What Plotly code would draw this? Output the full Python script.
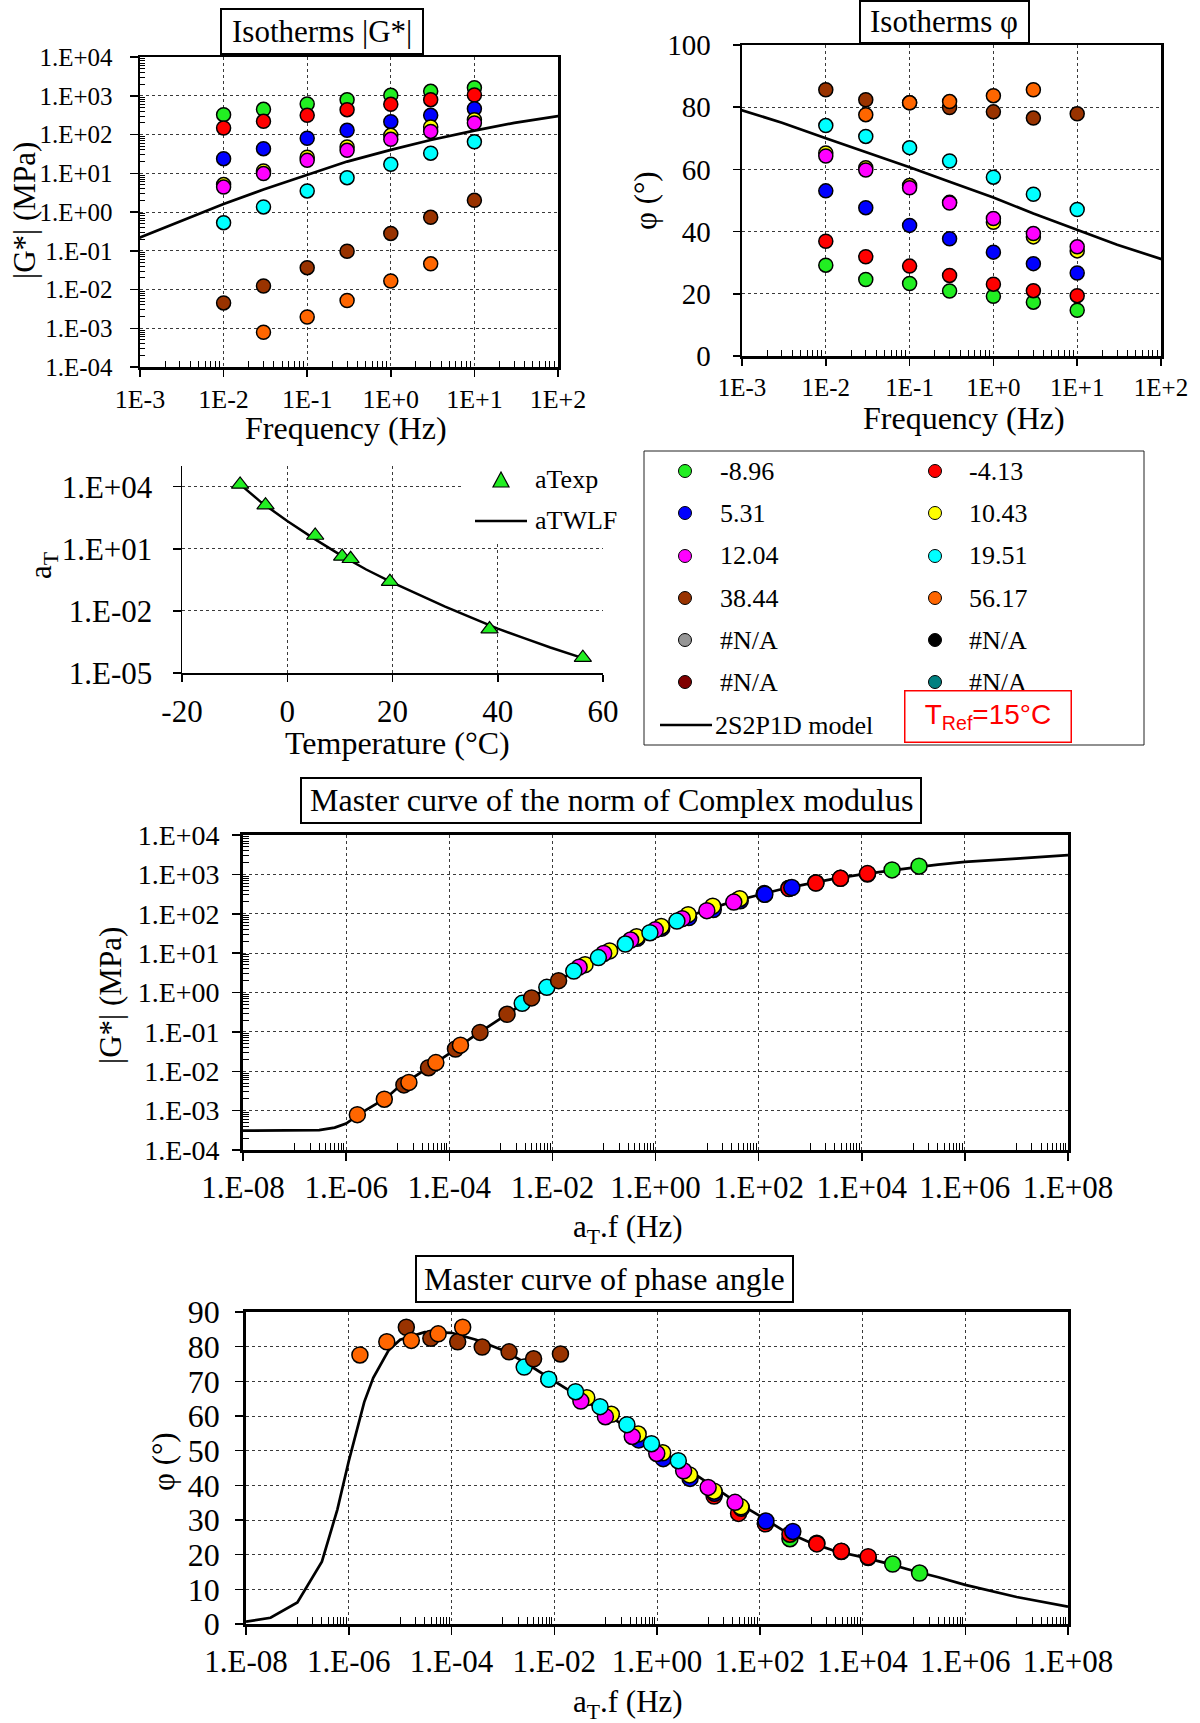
import plotly.graph_objects as go

# ---------------- data ----------------
freqs = [0.01, 0.03, 0.1, 0.3, 1, 3, 10]
temps = [-8.96, -4.13, 5.31, 10.43, 12.04, 19.51, 38.44, 56.17]
temp_labels = ["-8.96", "-4.13", "5.31", "10.43", "12.04", "19.51", "38.44", "56.17"]
series_colors = ["#22EE22", "#FF0000", "#0000FF", "#FFFF00",
                 "#FF00FF", "#00FFFF", "#993300", "#FF6600"]

# |G*| (MPa) per isotherm, at freqs
G_m896 = [325, 446, 612, 792, 1026, 1300, 1619]
G_m413 = [147, 219, 313, 437, 600, 792, 1047]
G_531 = [23.8, 43, 80, 128, 214, 313, 464]
G_1043 = [5.1, 11.4, 26, 47.5, 95, 156, 241]
G_1204 = [4.4, 9.8, 21.5, 39, 75, 120, 198]
G_1951 = [0.53, 1.35, 3.5, 7.7, 17, 33, 65]
G_3844 = [0.0045, 0.0123, 0.0366, 0.097, 0.28, 0.73, 2.0]
G_5617 = [None, 0.00079, 0.00195, 0.0052, 0.0166, 0.046, None]

# phase angle (deg) per isotherm, at freqs
P_m896 = [29.2, 24.6, 23.3, 20.9, 19.2, 17.3, 14.7]
P_m413 = [36.9, 31.9, 28.9, 25.9, 23.1, 21.0, 19.4]
P_531 = [53.1, 47.7, 42.0, 37.7, 33.4, 29.7, 26.7]
P_1043 = [65.3, 60.5, 54.8, 49.4, 43.0, 38.3, 33.8]
P_1204 = [64.3, 59.8, 54.1, 49.2, 44.2, 39.4, 35.1]
P_1951 = [74.1, 70.6, 67.0, 62.7, 57.5, 52.0, 47.1]
P_3844 = [85.6, 82.4, 81.4, 79.9, 78.5, 76.5, 77.9]
P_5617 = [None, 77.6, 81.4, 81.8, 83.7, 85.6, None]

# experimental shift factors aT (Tref = 15 C)
aT_exp = [1.29e4, 1.29e3, 44, 4.3, 3.3, 0.26, 1.32e-3, 5.5e-5]

# WLF fit curve
wlf_temps = [-8.96, -5, 0, 5, 10, 15, 20, 25, 30, 35, 40, 45, 50, 56.17]
wlf_aT = [1.29e4, 1.8e3, 2.2e2, 32, 5.2, 1.0, 0.23, 5.8e-2, 1.6e-2,
          4.7e-3, 1.4e-3, 4.8e-4, 1.7e-4, 5.2e-5]

# 2S2P1D model at Tref (reduced frequency, |G*|, phase)
model_f = [1e-8, 3e-8, 1e-7, 3e-7, 6e-7, 1e-6, 2e-6, 3e-6, 6e-6, 1e-5, 3e-5,
           1e-4, 3e-4, 1e-3, 3e-3, 1e-2, 3e-2, 1e-1, 3e-1, 1, 3, 10, 30, 100,
           300, 1e3, 3e3, 1e4, 3e4, 1e5, 3e5, 1e6, 1e7, 1e8]
model_G = [3.1e-4, 3.1e-4, 3.1e-4, 3.2e-4, 3.7e-4, 4.7e-4, 8.9e-4, 1.22e-3,
           2.1e-3, 3.8e-3, 1.0e-2, 2.8e-2, 7.8e-2, 0.22, 0.58, 1.6, 3.8, 9.1,
           20, 40, 72, 126, 200, 300, 430, 590, 780, 1000, 1230, 1480, 1770,
           2080, 2520, 3100]
model_P = [0.7, 1.8, 6.2, 18, 33, 47, 64, 71, 79, 82, 84.2, 84, 82, 79, 75,
           70, 65.6, 60.7, 56, 51, 45.8, 40.6, 35.8, 31.2, 26.8, 23.4, 21, 19.3,
           17.5, 15.3, 13.5, 11.3, 7.8, 5.0]

na_colors = ["#969696", "#000000", "#800000", "#008080"]

temp_axis_ticks = [-20, 0, 20, 40, 60]
temp_axis_text = ["-20", "0", "20", "40", "60"]

G_series = [G_m896, G_m413, G_531, G_1043, G_1204, G_1951, G_3844, G_5617]
P_series = [P_m896, P_m413, P_531, P_1043, P_1204, P_1951, P_3844, P_5617]

# ---------------- layout helpers ----------------
W, H = 1200, 1723
SERIF = "Liberation Serif"
SANS = "Liberation Sans"


def fx(p):
    return p / W


def fy(p):
    return 1 - p / H


def dom_x(a, b):
    return [fx(a), fx(b)]


def dom_y(top, bottom):
    return [fy(bottom), fy(top)]


GRID = dict(showgrid=True, gridcolor="#3a3a3a", griddash="dot", gridwidth=1)


def axis(domain, anchor, size, **kw):
    d = dict(domain=domain, anchor=anchor, showline=True, linecolor="black",
             ticks="outside", tickcolor="black", tickwidth=1.5, zeroline=False,
             automargin=False,
             tickfont=dict(family=SERIF, size=size, color="black"), **GRID)
    d.update(kw)
    return d


def decade_minor(n0, n1, ks=range(2, 10)):
    return [k * 10 ** n for n in range(n0, n1) for k in ks]


fig = go.Figure()

# model lines
for xa, ya, yv in [("x", "y", model_G), ("x2", "y2", model_P),
                   ("x4", "y4", model_G), ("x5", "y5", model_P)]:
    fig.add_trace(go.Scatter(x=model_f, y=yv, xaxis=xa, yaxis=ya, mode="lines",
                             line=dict(color="black", width=2.7),
                             showlegend=False, hoverinfo="skip"))

# isotherm points and master-curve points
for i, t in enumerate(temps):
    col = series_colors[i]
    mk = dict(color=col, size=14, line=dict(color="black", width=1.5))
    mk2 = dict(color=col, size=16, line=dict(color="black", width=1.5))
    red_f = [f * aT_exp[i] for f in freqs]
    fig.add_trace(go.Scatter(x=freqs, y=G_series[i], xaxis="x", yaxis="y",
                             mode="markers", marker=mk, name=temp_labels[i],
                             showlegend=False))
    fig.add_trace(go.Scatter(x=freqs, y=P_series[i], xaxis="x2", yaxis="y2",
                             mode="markers", marker=mk, name=temp_labels[i],
                             showlegend=False))
    fig.add_trace(go.Scatter(x=red_f, y=G_series[i], xaxis="x4", yaxis="y4",
                             mode="markers", marker=mk2, name=temp_labels[i],
                             showlegend=False))
    fig.add_trace(go.Scatter(x=red_f, y=P_series[i], xaxis="x5", yaxis="y5",
                             mode="markers", marker=mk2, name=temp_labels[i],
                             showlegend=False))

# aT panel
fig.add_trace(go.Scatter(x=wlf_temps, y=wlf_aT, xaxis="x3", yaxis="y3",
                         mode="lines", line=dict(color="black", width=2.5),
                         name="aTWLF", showlegend=False))
fig.add_trace(go.Scatter(x=temps, y=aT_exp, xaxis="x3", yaxis="y3",
                         mode="markers", name="aTexp", showlegend=False,
                         marker=dict(symbol="triangle-up", size=15, color="#22EE22",
                                     line=dict(color="black", width=1.2))))

iso_ticks = [1e-3, 1e-2, 1e-1, 1e0, 1e1, 1e2]
iso_text = ["1E-3", "1E-2", "1E-1", "1E+0", "1E+1", "1E+2"]
g_ticks = [10.0 ** n for n in range(-4, 5)]
g_text = ["1.E-04", "1.E-03", "1.E-02", "1.E-01", "1.E+00", "1.E+01",
          "1.E+02", "1.E+03", "1.E+04"]
m_ticks = [10.0 ** n for n in range(-8, 9, 2)]
m_text = ["1.E-08", "1.E-06", "1.E-04", "1.E-02", "1.E+00", "1.E+02",
          "1.E+04", "1.E+06", "1.E+08"]

minor_in = dict(ticks="inside", ticklen=6, tickcolor="black", tickwidth=1,
                showgrid=False, tickmode="array")

layout = dict(
    width=W, height=H, autosize=False,
    margin=dict(l=0, r=0, t=0, b=0, pad=0, autoexpand=False),
    paper_bgcolor="white", plot_bgcolor="white", showlegend=False,
    hovermode=False,
    font=dict(family=SERIF, color="black"),
    # top-left isotherms |G*|
    xaxis=axis(dom_x(140, 558), "y", 26, type="log", range=[-3, 2],
               tickmode="array", tickvals=iso_ticks, ticktext=iso_text,
               linewidth=2.5, mirror=True, ticklen=7, ticklabelstandoff=0,
               minor=dict(minor_in, tickvals=decade_minor(-3, 2))),
    yaxis=axis(dom_y(57, 367), "x", 25, type="log", range=[-4, 4],
               tickmode="array", tickvals=g_ticks, ticktext=g_text,
               linewidth=2.5, mirror=True, ticklen=8, ticklabelstandoff=12,
               minor=dict(minor_in, ticklen=5, tickvals=decade_minor(-4, 4))),
    # top-right isotherms phase
    xaxis2=axis(dom_x(742, 1161), "y2", 25, type="log", range=[-3, 2],
                tickmode="array", tickvals=iso_ticks, ticktext=iso_text,
                linewidth=2.5, mirror=True, ticklen=7, ticklabelstandoff=0,
                minor=dict(minor_in, tickvals=decade_minor(-3, 2))),
    yaxis2=axis(dom_y(45, 356), "x2", 29, range=[0, 100], dtick=20,
                linewidth=2.5, mirror=True, ticklen=7, ticklabelstandoff=16),
    # aT panel
    xaxis3=axis(dom_x(182, 603), "y3", 31, range=[-20, 60],
                tickmode="array", tickvals=temp_axis_ticks, ticktext=temp_axis_text,
                linewidth=1.5, ticklen=7, ticklabelstandoff=3),
    yaxis3=axis(dom_y(466, 673), "x3", 31, type="log", range=[-5, 5],
                tickmode="array", tickvals=[1e-5, 1e-2, 1e1, 1e4],
                ticktext=["1.E-05", "1.E-02", "1.E+01", "1.E+04"],
                linewidth=1.5, ticklen=8, ticklabelstandoff=14),
    # master curve |G*|
    xaxis4=axis(dom_x(243, 1068), "y4", 31, type="log", range=[-8, 8],
                tickmode="array", tickvals=m_ticks, ticktext=m_text,
                linewidth=2.8, mirror=True, ticklen=8, ticklabelstandoff=0,
                minor=dict(minor_in, ticklen=7,
                           tickvals=[k * 10.0 ** n for n in range(-7, 8, 2)
                                     for k in range(1, 10)])),
    yaxis4=axis(dom_y(835, 1150), "x4", 28, type="log", range=[-4, 4],
                tickmode="array", tickvals=g_ticks, ticktext=g_text,
                linewidth=2.8, mirror=True, ticklen=8, ticklabelstandoff=7,
                minor=dict(minor_in, ticklen=6, tickvals=decade_minor(-4, 4))),
    # master curve phase
    xaxis5=axis(dom_x(246, 1068), "y5", 31, type="log", range=[-8, 8],
                tickmode="array", tickvals=m_ticks, ticktext=m_text,
                linewidth=2.8, mirror=True, ticklen=8, ticklabelstandoff=0,
                minor=dict(minor_in, ticklen=7,
                           tickvals=[k * 10.0 ** n for n in range(-7, 8, 2)
                                     for k in range(1, 10)])),
    yaxis5=axis(dom_y(1312, 1624), "x5", 32, range=[0, 90], dtick=10,
                linewidth=2.8, mirror=True, ticklen=8, ticklabelstandoff=9),
)
fig.update_layout(**layout)

shapes = []
annotations = []


def rect(x0, y0, x1, y1, color="black", width=2, fill="white"):
    shapes.append(dict(type="rect", xref="paper", yref="paper",
                       x0=fx(x0), x1=fx(x1), y0=fy(y1), y1=fy(y0),
                       line=dict(color=color, width=width), fillcolor=fill,
                       layer="above"))


def text(x, y, s, size=30, angle=0, anchor="center", color="black", family=SERIF):
    annotations.append(dict(xref="paper", yref="paper", x=fx(x), y=fy(y),
                            text=s, showarrow=False, xanchor=anchor,
                            yanchor="middle", textangle=angle,
                            font=dict(family=family, size=size, color=color)))


# title boxes
rect(221, 9, 423, 54)
text(322, 32, "Isotherms |G*|", 31)
rect(860, 1, 1029, 43)
text(944, 22, "Isotherms φ", 31)
rect(301, 778, 921, 823)
text(611, 800, "Master curve of the norm of Complex modulus", 32)
rect(416, 1256, 793, 1302)
text(604, 1279, "Master curve of phase angle", 32)

# axis titles
text(24, 211, "|G*| (MPa)", 31, angle=-90)
text(346, 428, "Frequency (Hz)", 32)
text(646, 201, "φ (°)", 31, angle=-90)
text(964, 418, "Frequency (Hz)", 32)
text(43, 566, "a<sub>T</sub>", 31, angle=-90)
text(397, 743, "Temperature (°C)", 32)
text(110, 995, "|G*| (MPa)", 31, angle=-90)
text(628, 1229, "a<sub>T</sub>.f (Hz)", 31)
text(163, 1462, "φ (°)", 31, angle=-90)
text(628, 1704, "a<sub>T</sub>.f (Hz)", 31)

# aT inset legend (white area covering grid)
shapes.append(dict(type="rect", xref="paper", yref="paper", x0=fx(462), x1=fx(612),
                   y0=fy(544), y1=fy(463), line=dict(width=0), fillcolor="white",
                   layer="above"))
shapes.append(dict(type="path", xref="paper", yref="paper",
                   path="M {:.5f} {:.5f} L {:.5f} {:.5f} L {:.5f} {:.5f} Z".format(
                       fx(493), fy(487), fx(509), fy(487), fx(501), fy(472)),
                   fillcolor="#22EE22", line=dict(color="black", width=1.2),
                   layer="above"))
text(533, 480, "aTexp", 26, anchor="left")
shapes.append(dict(type="line", xref="paper", yref="paper", x0=fx(475), x1=fx(527),
                   y0=fy(521), y1=fy(521), line=dict(color="black", width=2.5),
                   layer="above"))
text(533, 521, "aTWLF", 26, anchor="left")

# series legend box
rect(644, 451, 1144, 745, color="#222222", width=1)
leg_labels = temp_labels + ["#N/A"] * 4
leg_colors = series_colors + na_colors
rows_y = [471, 513, 556, 598, 640, 682]
col_mx = [685, 935]
col_tx = [718, 967]
for i, (lab, c) in enumerate(zip(leg_labels, leg_colors)):
    r, cc = divmod(i, 2)
    cx, cy = col_mx[cc], rows_y[r]
    shapes.append(dict(type="circle", xref="paper", yref="paper",
                       x0=fx(cx - 6.5), x1=fx(cx + 6.5), y0=fy(cy + 6.5), y1=fy(cy - 6.5),
                       fillcolor=c, line=dict(color="black", width=1), layer="above"))
    text(col_tx[cc], cy, lab, 26, anchor="left")
shapes.append(dict(type="line", xref="paper", yref="paper", x0=fx(660), x1=fx(712),
                   y0=fy(725), y1=fy(725), line=dict(color="black", width=2.5),
                   layer="above"))
text(713, 725, "2S2P1D model", 26, anchor="left")

# Tref box (drawn last, above the legend text)
annotations.append(dict(xref="paper", yref="paper", x=fx(988), y=fy(716),
                        text="T<sub>Ref</sub>=15°C", showarrow=False,
                        xanchor="center", yanchor="middle", width=163, height=48,
                        bgcolor="white", bordercolor="#FF0000", borderwidth=1.5,
                        borderpad=1, align="center", valign="middle",
                        font=dict(family=SANS, size=28, color="#FF0000")))

fig.update_layout(shapes=shapes, annotations=annotations)
fig.write_html("out.html", config=dict(displayModeBar=False, staticPlot=True),
               post_script="document.body.style.margin='0';"
                           "document.body.style.padding='0';")
